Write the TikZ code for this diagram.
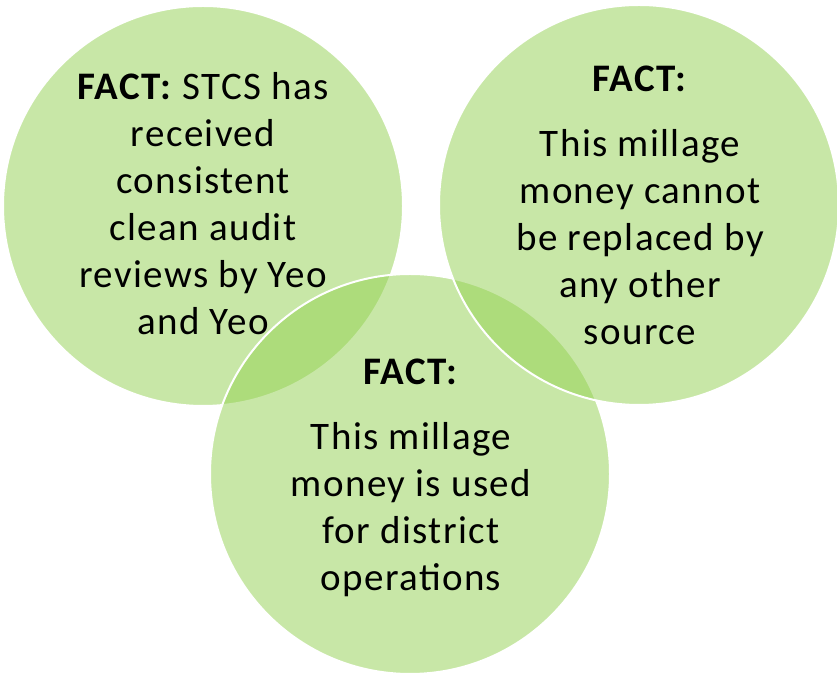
\documentclass[tikz,border=0pt]{standalone}
\usepackage{fontspec}
\setmainfont{Carlito}[LetterSpace=3.5]
\definecolor{factgreen}{HTML}{92D050}
\tikzset{
  factcircle/.style={circle, minimum size=400pt, inner sep=0pt, fill=factgreen, fill opacity=.5, draw=white, draw opacity=1, line width=2pt},
  facttext/.style={align=center, font=\fontsize{39}{47}\selectfont, text=black}
}
\begin{document}
\begin{tikzpicture}[x=1pt, y=1pt]
\useasboundingbox (0,0) rectangle (837,679);
\node [factcircle] (audit) at (203,473) {};
\node [factcircle] (operations) at (410,205) {};
\node [factcircle] (source) at (639,474) {};
\node [facttext] (audittext) at (203,475) {\textbf{FACT:} STCS has\\ received\\ consistent\\ clean audit\\ reviews by Yeo\\ and Yeo};
\node [facttext] (sourcetext) at (640,474) {\textbf{FACT:}\\[18pt] This millage\\ money cannot\\ be replaced by\\ any other\\ source};
\node [facttext] (operationstext) at (411,201.5) {\textbf{FACT:}\\[18pt] This millage\\ money is used\\ for district\\ operations};
\end{tikzpicture}
\end{document}
